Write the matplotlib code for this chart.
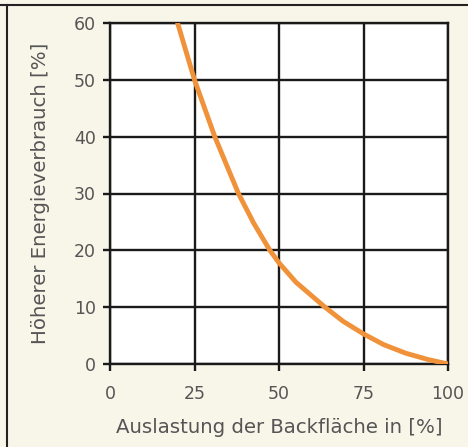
import matplotlib
matplotlib.use("Agg")
import matplotlib.pyplot as plt
from matplotlib.lines import Line2D

# Data
auslastung = [20, 22.5, 25, 28, 31, 34.5, 38, 42.5, 47.3, 50, 55, 63.6, 69, 75, 81, 87.5, 94, 100]
energie = [60, 55, 50, 45, 40, 35, 30, 24.8, 20, 17.8, 14.4, 10, 7.5, 5.3, 3.4, 1.9, 0.8, 0]
xticks = [0, 25, 50, 75, 100]
yticks = [0, 10, 20, 30, 40, 50, 60]

plt.rcParams['font.family'] = ['DejaVu Sans']

bg = '#f8f5e9'
txt = '#555555'
fig = plt.figure(figsize=(4.68, 4.47), dpi=100, facecolor=bg)
ax = fig.add_axes([110/468, 1-364/447, 338/468, 341/447])
ax.set_facecolor('white')

ax.plot(auslastung, energie, color='#f0923a', lw=3.5, solid_capstyle='round',
        solid_joinstyle='round', zorder=3)

ax.set_xlim(0, 100)
ax.set_ylim(0, 60)
ax.set_xticks(xticks)
ax.set_yticks(yticks)
ax.grid(True, color='#1a1a1a', lw=1.7, zorder=1)
ax.set_axisbelow(True)
for s in ax.spines.values():
    s.set_color('#1a1a1a')
    s.set_linewidth(1.7)
ax.tick_params(axis='both', colors='#1a1a1a', width=1.7, length=5, labelsize=12.5, labelcolor=txt)
ax.tick_params(axis='x', pad=10)
ax.tick_params(axis='y', pad=5)
ax.set_xlabel('Auslastung der Backfläche in [%]', fontsize=14.2, color=txt, labelpad=11)
ax.set_ylabel('Höherer Energieverbrauch [%]', fontsize=14.2, color=txt, labelpad=17)

fig.add_artist(Line2D([0, 1], [1-5/447, 1-5/447], transform=fig.transFigure, color='#222222', lw=1.5))
fig.add_artist(Line2D([7/468, 7/468], [0, 1-5/447], transform=fig.transFigure, color='#222222', lw=1.5))

fig.savefig('out.png', dpi=100, facecolor=bg)
